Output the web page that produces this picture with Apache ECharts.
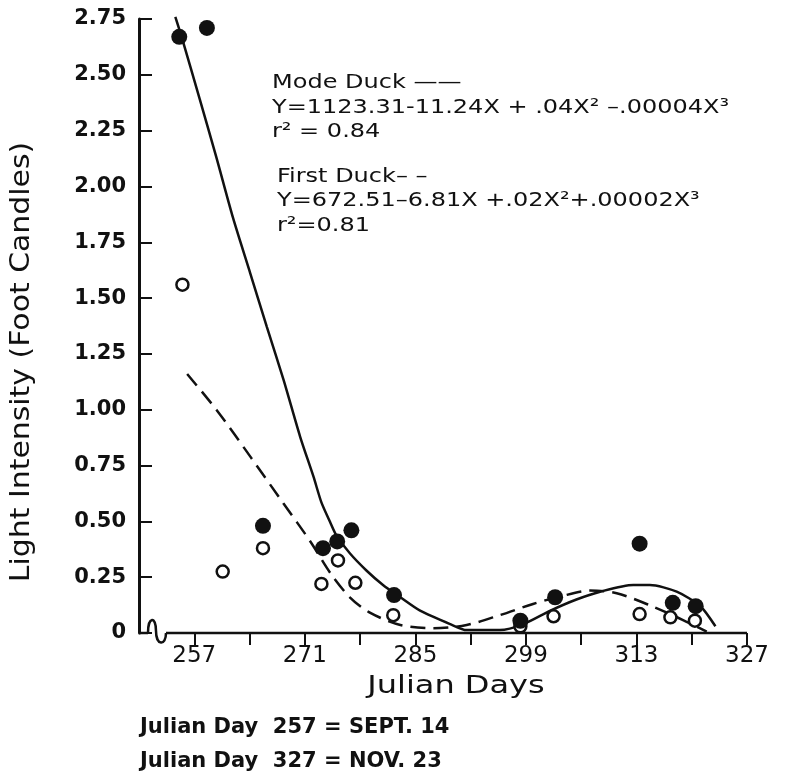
<!DOCTYPE html>
<html>
<head>
<meta charset="utf-8">
<script src="https://cdn.jsdelivr.net/npm/echarts@6/dist/echarts.min.js"></script>
<style>
  html, body { margin: 0; padding: 0; background: #fff; }
  #ec { width: 785px; height: 775px; }
</style>
</head>
<body>
<div id="ec"></div>
<script>
// observed points (Julian day, foot candles)
var modeDays = [255.1, 258.6, 265.7, 273.3, 275.1, 276.9, 282.3, 298.3, 302.7, 313.4, 317.6, 320.5];
var modeLight = [2.67, 2.71, 0.48, 0.38, 0.41, 0.46, 0.17, 0.055, 0.16, 0.40, 0.135, 0.12];
var firstDays = [255.5, 260.6, 265.7, 273.1, 275.2, 277.4, 282.2, 298.3, 302.5, 313.4, 317.3, 320.4];
var firstLight = [1.56, 0.275, 0.38, 0.22, 0.325, 0.225, 0.08, 0.03, 0.075, 0.085, 0.07, 0.055];

// fitted curves
var modeCurveDays = [254.6, 255.4, 257.7, 259.8, 261.9, 264.1, 266.2, 268.3, 270.4, 272.1, 273.1, 274.2, 275.0, 276.7, 278.8, 280.9, 283.1, 285.6, 289.4, 291.5, 295.7, 298.7, 302.1, 305.4, 308.4, 312.6, 314.7, 318.1, 321.1, 323.0];
var modeCurveLight = [2.76, 2.67, 2.39, 2.13, 1.86, 1.61, 1.37, 1.135, 0.88, 0.70, 0.585, 0.497, 0.437, 0.357, 0.28, 0.215, 0.16, 0.10, 0.04, 0.013, 0.013, 0.04, 0.10, 0.15, 0.185, 0.215, 0.215, 0.185, 0.12, 0.03];
var firstCurveDays = [256.1, 259.8, 264.1, 268.3, 271.7, 274.2, 276.7, 279.3, 283.1, 287.3, 291.5, 295.7, 299.9, 303.3, 307.1, 310.5, 315.1, 318.9, 321.9];
var firstCurveLight = [1.16, 1.00, 0.79, 0.58, 0.41, 0.27, 0.16, 0.09, 0.036, 0.021, 0.036, 0.08, 0.13, 0.163, 0.19, 0.178, 0.118, 0.058, 0.006];

// axes
var xTickDays = [257, 264, 271, 278, 285, 292, 299, 306, 313, 320, 327];
var xLabelDays = [257, 271, 285, 299, 313, 327];
var xMin = 250, xMax = 327;
var yMax = 2.75, yStep = 0.25;

var noteLines = [
  "Mode Duck \u2014\u2014",
  "Y=1123.31-11.24X + .04X\u00b2 \u2013.00004X\u00b3",
  "r\u00b2 = 0.84",
  "First Duck\u2013 \u2013",
  "Y=672.51\u20136.81X +.02X\u00b2+.00002X\u00b3",
  "r\u00b2=0.81"
];
var footLines = ["Julian Day  257 = SEPT. 14", "Julian Day  327 = NOV. 23"];

function zip(xs, ys) {
  return xs.map(function (x, i) { return [x, ys[i]]; });
}

var ink = "#111";
var font = "DejaVu Sans";

var myChart = echarts.init(document.getElementById("ec"));
myChart.setOption({
  animation: false,
  grid: { left: 139, right: 38, top: 19, bottom: 142 },
  xAxis: {
    type: "value",
    min: xMin,
    max: xMax,
    axisLine: { show: false },
    splitLine: { show: false },
    axisTick: {
      customValues: xTickDays,
      length: 12,
      lineStyle: { color: ink, width: 2 },
    },
    axisLabel: {
      customValues: xLabelDays,
      margin: 12,
      fontFamily: font,
      fontSize: 23,
      color: ink,
    },
  },
  yAxis: {
    type: "value",
    min: 0,
    max: yMax,
    interval: yStep,
    axisLine: { show: true, lineStyle: { color: ink, width: 3 } },
    splitLine: { show: false },
    axisTick: { inside: true, length: 13, lineStyle: { color: ink, width: 2 } },
    axisLabel: {
      margin: 13,
      fontFamily: font,
      fontWeight: "bold",
      fontSize: 21,
      color: ink,
      formatter: function (v) { return v === 0 ? "0" : v.toFixed(2); },
    },
  },
  series: [
    {
      name: "Mode Duck fit",
      type: "line",
      data: zip(modeCurveDays, modeCurveLight),
      smooth: 0.25,
      showSymbol: false,
      clip: false,
      lineStyle: { color: ink, width: 2.5 },
      z: 2,
    },
    {
      name: "First Duck fit",
      type: "line",
      data: zip(firstCurveDays, firstCurveLight),
      smooth: 0.3,
      showSymbol: false,
      lineStyle: { color: ink, width: 2.5, type: [15, 8] },
      z: 2,
    },
    {
      name: "First Duck",
      type: "scatter",
      data: zip(firstDays, firstLight),
      symbolSize: 12,
      itemStyle: { color: "#fff", borderColor: ink, borderWidth: 2.5, opacity: 1 },
      z: 3,
    },
    {
      name: "Mode Duck",
      type: "scatter",
      data: zip(modeDays, modeLight),
      symbolSize: 16,
      itemStyle: { color: ink, opacity: 1 },
      z: 4,
    },
  ],
});

// broken x axis: squiggle next to the origin, then the axis line
var o = myChart.convertToPixel({ gridIndex: 0 }, [xMin, 0]);
var e = myChart.convertToPixel({ gridIndex: 0 }, [xMax, 0]);
var ox = o[0], oy = o[1];
var axisStroke = { stroke: ink, lineWidth: 2.5, fill: null };

function label(text, x, y, size, opts) {
  opts = opts || {};
  return {
    type: "text",
    x: x,
    y: y,
    rotation: opts.rotation || 0,
    scaleX: opts.stretch || 1,
    style: {
      text: text,
      font: (opts.bold ? "bold " : "") + size + "px " + font,
      fill: ink,
      align: opts.align || "left",
      textAlign: opts.align || "left",
      verticalAlign: "middle",
      textVerticalAlign: "middle",
    },
  };
}

var elements = [
  { type: "line", shape: { x1: ox, y1: oy, x2: ox + 9, y2: oy }, style: axisStroke },
  {
    type: "bezierCurve",
    shape: { x1: ox + 9, y1: oy, cpx1: ox + 9, cpy1: oy - 17, cpx2: ox + 17, cpy2: oy - 17, x2: ox + 17, y2: oy - 2 },
    style: axisStroke,
  },
  {
    type: "bezierCurve",
    shape: { x1: ox + 17, y1: oy - 2, cpx1: ox + 17, cpy1: oy + 13, cpx2: ox + 27, cpy2: oy + 13, x2: ox + 27, y2: oy },
    style: axisStroke,
  },
  { type: "line", shape: { x1: ox + 27, y1: oy, x2: e[0], y2: oy }, style: axisStroke },
  label("Light Intensity (Foot Candles)", 22, 362, 26, { rotation: Math.PI / 2, align: "center", stretch: 1.15 }),
  label("Julian Days", 456, 686, 25, { align: "center", stretch: 1.28 }),
];

noteLines.forEach(function (t, i) {
  elements.push(label(t, i < 3 ? 272 : 277, 83 + i * 24.5 + (i >= 3 ? 20 : 0), 20, { stretch: 1.2 }));
});

footLines.forEach(function (t, i) {
  elements.push(label(t, 140, 728 + i * 34, 21, { bold: true }));
});

myChart.setOption({ graphic: { elements: elements } });
</script>
</body>
</html>
